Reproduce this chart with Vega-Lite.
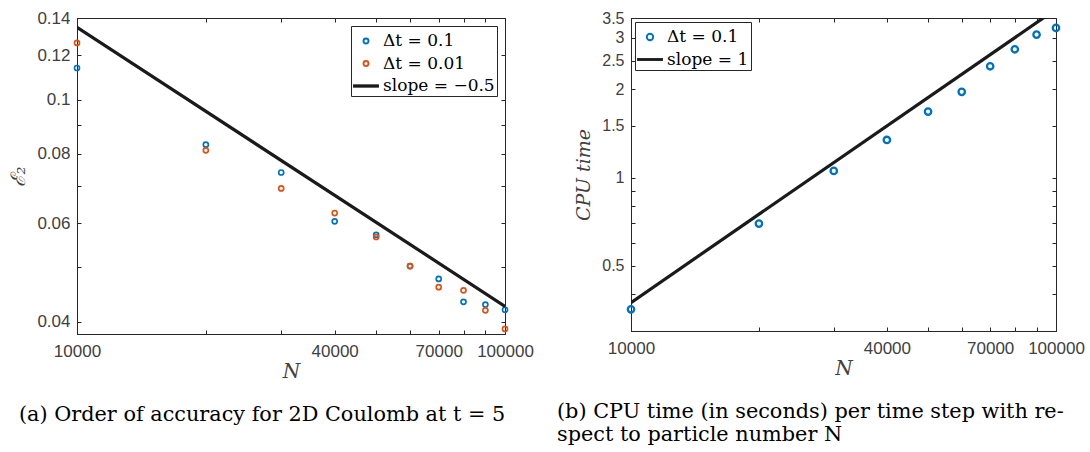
{
  "$schema": "https://vega.github.io/schema/vega-lite/v6.json",
  "padding": {"left": 8, "top": 8, "right": 0, "bottom": 0},
  "background": "white",
  "spacing": 22,
  "datasets": {
    "errA": [
      {"N": 10000, "series": "Δt = 0.1", "E": 0.1139},
      {"N": 10000, "series": "Δt = 0.01", "E": 0.1263},
      {"N": 20000, "series": "Δt = 0.1", "E": 0.0830},
      {"N": 20000, "series": "Δt = 0.01", "E": 0.0811},
      {"N": 30000, "series": "Δt = 0.1", "E": 0.0740},
      {"N": 30000, "series": "Δt = 0.01", "E": 0.0693},
      {"N": 40000, "series": "Δt = 0.1", "E": 0.0605},
      {"N": 40000, "series": "Δt = 0.01", "E": 0.0626},
      {"N": 50000, "series": "Δt = 0.1", "E": 0.0572},
      {"N": 50000, "series": "Δt = 0.01", "E": 0.0567},
      {"N": 60000, "series": "Δt = 0.1", "E": 0.0503},
      {"N": 60000, "series": "Δt = 0.01", "E": 0.0503},
      {"N": 70000, "series": "Δt = 0.1", "E": 0.0477},
      {"N": 70000, "series": "Δt = 0.01", "E": 0.0461},
      {"N": 80000, "series": "Δt = 0.1", "E": 0.0434},
      {"N": 80000, "series": "Δt = 0.01", "E": 0.0455},
      {"N": 90000, "series": "Δt = 0.1", "E": 0.0429},
      {"N": 90000, "series": "Δt = 0.01", "E": 0.0419},
      {"N": 100000, "series": "Δt = 0.1", "E": 0.0420},
      {"N": 100000, "series": "Δt = 0.01", "E": 0.0388}
    ],
    "slopeA": [
      {"N": 10000, "series": "slope = −0.5", "E": 0.1347},
      {"N": 100000, "series": "slope = −0.5", "E": 0.0426}
    ],
    "cpuB": [
      {"N": 10000, "series": "Δt = 0.1", "T": 0.3557},
      {"N": 20000, "series": "Δt = 0.1", "T": 0.697},
      {"N": 30000, "series": "Δt = 0.1", "T": 1.054},
      {"N": 40000, "series": "Δt = 0.1", "T": 1.344},
      {"N": 50000, "series": "Δt = 0.1", "T": 1.679},
      {"N": 60000, "series": "Δt = 0.1", "T": 1.960},
      {"N": 70000, "series": "Δt = 0.1", "T": 2.396},
      {"N": 80000, "series": "Δt = 0.1", "T": 2.738},
      {"N": 90000, "series": "Δt = 0.1", "T": 3.072},
      {"N": 100000, "series": "Δt = 0.1", "T": 3.238}
    ],
    "slopeB": [
      {"N": 10000, "series": "slope = 1", "T": 0.375},
      {"N": 100000, "series": "slope = 1", "T": 3.75}
    ]
  },
  "hconcat": [
    {
      "width": 428,
      "height": 316,
      "title": {
        "text": "(a) Order of accuracy for 2D Coulomb at t = 5",
        "orient": "bottom", "anchor": "start", "frame": "group",
        "dx": -58, "offset": 23,
        "font": "DejaVu Serif", "fontSize": 20.8, "fontWeight": "normal", "color": "#000000"
      },
      "layer": [
        {
          "data": {"name": "errA"},
          "mark": {"type": "point", "filled": false, "size": 576, "strokeWidth": 1.7, "opacity": 1, "clip": false},
          "encoding": {
            "x": {
              "field": "N", "type": "quantitative",
              "scale": {"type": "log", "domain": [10000, 100000], "nice": false},
              "axis": {
                "orient": "bottom", "title": "N",
                "values": [10000, 20000, 30000, 40000, 50000, 60000, 70000, 80000, 90000, 100000],
                "format": "d",
                "labelExpr": "indexof([10000, 40000, 70000, 100000], datum.value) >= 0 ? datum.label : ''",
                "labelPadding": 13.5, "titlePadding": 2
              }
            },
            "y": {
              "field": "E", "type": "quantitative",
              "scale": {"type": "log", "domain": [0.038, 0.14], "nice": false},
              "axis": {
                "orient": "left", "title": "ℰ₂",
                "values": [0.04, 0.05, 0.06, 0.07, 0.08, 0.09, 0.1, 0.12, 0.14],
                "format": "~g",
                "labelExpr": "indexof([0.04, 0.06, 0.08, 0.1, 0.12, 0.14], datum.value) >= 0 ? datum.label : ''",
                "labelPadding": 11, "titlePadding": 8
              }
            },
            "color": {
              "field": "series", "type": "nominal",
              "scale": {"domain": ["Δt = 0.1", "Δt = 0.01", "slope = −0.5"], "range": ["#0072BD", "#D95319", "#1a1a1a"]},
              "legend": {"orient": "top-right", "offset": 8}
            },
            "shape": {
              "field": "series", "type": "nominal",
              "scale": {
                "domain": ["Δt = 0.1", "Δt = 0.01", "slope = −0.5"],
                "range": [
                  "M 0.208 0 A 0.208 0.208 0 1 1 -0.208 0 A 0.208 0.208 0 1 1 0.208 0 Z",
                  "M 0.208 0 A 0.208 0.208 0 1 1 -0.208 0 A 0.208 0.208 0 1 1 0.208 0 Z",
                  "M -1 -0.06 L 1 -0.06 L 1 0.06 L -1 0.06 Z"
                ]
              },
              "legend": {"orient": "top-right", "offset": 8}
            }
          }
        },
        {
          "data": {"name": "slopeA"},
          "mark": {"type": "line", "strokeWidth": 3.2, "clip": true},
          "encoding": {
            "x": {
              "field": "N", "type": "quantitative",
              "axis": {
                "orient": "top", "title": null, "labels": false, "domain": false,
                "values": [10000, 20000, 30000, 40000, 50000, 60000, 70000, 80000, 90000, 100000]
              }
            },
            "y": {
              "field": "E", "type": "quantitative",
              "axis": {
                "orient": "right", "title": null, "labels": false, "domain": false,
                "values": [0.04, 0.05, 0.06, 0.07, 0.08, 0.09, 0.1, 0.12, 0.14]
              }
            },
            "color": {"field": "series", "type": "nominal", "legend": {"orient": "top-right", "offset": 8}}
          }
        }
      ],
      "resolve": {"axis": {"x": "independent", "y": "independent"}}
    },
    {
      "width": 425,
      "height": 313,
      "title": {
        "text": ["(b) CPU time (in seconds) per time step with re-", "spect to particle number N"],
        "orient": "bottom", "anchor": "start", "frame": "group",
        "dx": -74, "offset": 23, "lineHeight": 23,
        "font": "DejaVu Serif", "fontSize": 20.8, "fontWeight": "normal", "color": "#000000"
      },
      "layer": [
        {
          "data": {"name": "cpuB"},
          "mark": {"type": "point", "filled": false, "size": 576, "strokeWidth": 2.3, "opacity": 1, "clip": false},
          "encoding": {
            "x": {
              "field": "N", "type": "quantitative",
              "scale": {"type": "log", "domain": [10000, 100000], "nice": false},
              "axis": {
                "orient": "bottom", "title": "N",
                "values": [10000, 20000, 30000, 40000, 50000, 60000, 70000, 80000, 90000, 100000],
                "format": "d",
                "labelExpr": "indexof([10000, 40000, 70000, 100000], datum.value) >= 0 ? datum.label : ''",
                "labelPadding": 13.5, "titlePadding": 2
              }
            },
            "y": {
              "field": "T", "type": "quantitative",
              "scale": {"type": "log", "domain": [0.3, 3.5], "nice": false},
              "axis": {
                "orient": "left", "title": "CPU time",
                "titleFontStyle": "italic", "titleFontSize": 19,
                "values": [0.4, 0.5, 0.6, 0.7, 0.8, 0.9, 1, 1.5, 2, 2.5, 3, 3.5],
                "format": "~g",
                "labelExpr": "indexof([0.5, 1, 1.5, 2, 2.5, 3, 3.5], datum.value) >= 0 ? datum.label : ''",
                "labelPadding": 11, "titlePadding": 8, "labelFontSize": 16
              }
            },
            "color": {
              "field": "series", "type": "nominal",
              "scale": {"domain": ["Δt = 0.1", "slope = 1"], "range": ["#0072BD", "#1a1a1a"]},
              "legend": {"orient": "top-left", "offset": 4}
            },
            "shape": {
              "field": "series", "type": "nominal",
              "scale": {
                "domain": ["Δt = 0.1", "slope = 1"],
                "range": [
                  "M 0.267 0 A 0.267 0.267 0 1 1 -0.267 0 A 0.267 0.267 0 1 1 0.267 0 Z",
                  "M -1 -0.04 L 1 -0.04 L 1 0.04 L -1 0.04 Z"
                ]
              },
              "legend": {"orient": "top-left", "offset": 4}
            }
          }
        },
        {
          "data": {"name": "slopeB"},
          "mark": {"type": "line", "strokeWidth": 3.2, "clip": true},
          "encoding": {
            "x": {
              "field": "N", "type": "quantitative",
              "axis": {
                "orient": "top", "title": null, "labels": false, "domain": false,
                "values": [10000, 20000, 30000, 40000, 50000, 60000, 70000, 80000, 90000, 100000]
              }
            },
            "y": {
              "field": "T", "type": "quantitative",
              "axis": {
                "orient": "right", "title": null, "labels": false, "domain": false,
                "values": [0.4, 0.5, 0.6, 0.7, 0.8, 0.9, 1, 1.5, 2, 2.5, 3, 3.5]
              }
            },
            "color": {"field": "series", "type": "nominal", "legend": {"orient": "top-left", "offset": 4}}
          }
        }
      ],
      "resolve": {"axis": {"x": "independent", "y": "independent"}}
    }
  ],
  "resolve": {
    "scale": {"color": "independent", "shape": "independent", "x": "independent", "y": "independent"},
    "legend": {"color": "independent", "shape": "independent"}
  },
  "config": {
    "view": {"stroke": "#262626", "strokeWidth": 1},
    "axis": {
      "grid": false,
      "domainColor": "#262626", "domainWidth": 1,
      "tickColor": "#262626", "tickSize": -4, "tickWidth": 1,
      "labelFont": "Liberation Sans", "labelFontSize": 17, "labelColor": "#404040",
      "labelFlush": false, "labelOverlap": false, "labelBound": false,
      "titleFont": "DejaVu Serif", "titleFontSize": 20, "titleFontWeight": "normal",
      "titleColor": "#404040", "titleFontStyle": "italic"
    },
    "legend": {
      "title": null,
      "strokeColor": "#262626", "fillColor": "white", "padding": 2, "cornerRadius": 0,
      "labelFont": "DejaVu Serif", "labelFontSize": 17, "labelColor": "#000000",
      "labelOffset": 4, "symbolSize": 576, "symbolStrokeWidth": 1.9, "rowPadding": 1.5, "labelLimit": 300,
      "symbolFillColor": "transparent"
    }
  }
}
